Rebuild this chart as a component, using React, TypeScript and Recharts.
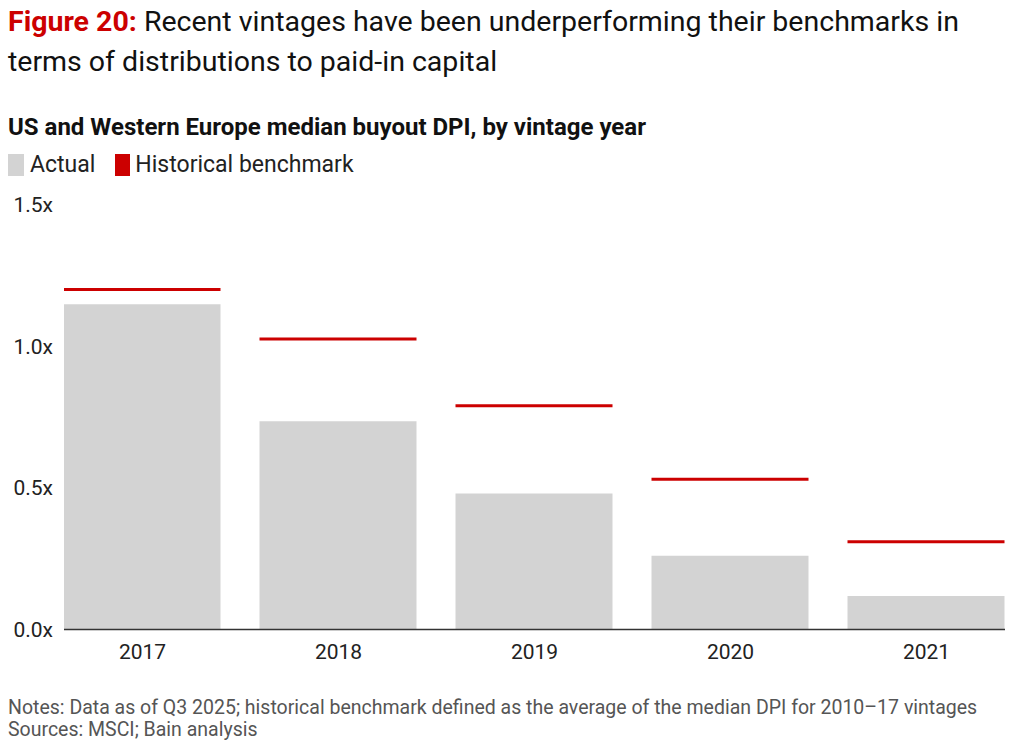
import React from "react";
import { BarChart, Bar, XAxis, YAxis } from "recharts";

const years = [2017, 2018, 2019, 2020, 2021];
const actual = [1.148, 0.735, 0.48, 0.26, 0.118];
const benchmark = [1.2, 1.025, 0.79, 0.53, 0.31];
const yTicks = [0, 0.5, 1.0, 1.5];

const data = years.map((y, i) => ({ year: y, actual: actual[i], benchmark: benchmark[i] }));

const FONT = "Roboto, 'Noto Sans', sans-serif";
const RED = "#cc0000";

const BenchShape = (props: any) => {
  const { x, y, width } = props;
  return <line x1={x} x2={x + width} y1={y} y2={y} stroke={RED} strokeWidth={3} />;
};

export default function App() {
  return (
    <div style={{ position: "absolute", left: 0, top: 0, width: 1018, height: 746, background: "#fff", fontFamily: FONT, color: "#111" }}>
      <div style={{ position: "absolute", left: 8, top: 2, width: 1008, fontSize: 28.5, lineHeight: "40px", whiteSpace: "nowrap" }}>
        <div><span style={{ color: RED, fontWeight: 700 }}>Figure 20:</span> Recent vintages have been underperforming their benchmarks in</div>
        <div>terms of distributions to paid-in capital</div>
      </div>
      <div style={{ position: "absolute", left: 8, top: 112, fontSize: 24, fontWeight: 700, lineHeight: "30px", whiteSpace: "nowrap" }}>
        US and Western Europe median buyout DPI, by vintage year
      </div>
      <div style={{ position: "absolute", left: 8, top: 150, fontSize: 23, lineHeight: "30px", display: "flex", alignItems: "center", whiteSpace: "nowrap", color: "#222" }}>
        <span style={{ display: "inline-block", width: 16, height: 22, background: "#d3d3d3", marginRight: 6 }} />
        <span style={{ marginRight: 20 }}>Actual</span>
        <span style={{ display: "inline-block", width: 15, height: 22, background: RED, marginRight: 5 }} />
        <span>Historical benchmark</span>
      </div>
      <div style={{ position: "absolute", left: 0, top: 0 }}>
        <BarChart
          width={1018}
          height={680}
          data={data}
          margin={{ top: 204.5, right: 13, bottom: 10.5, left: 0 }}
          barGap={-157}
        >
          <XAxis
            dataKey="year"
            type="number"
            domain={[2017 - 78.5 / 196, 2021 + 78.5 / 196]}
            ticks={years}
            tickLine={false}
            tickSize={0}
            tickMargin={15}
            height={40}
            axisLine={{ stroke: "#333", strokeWidth: 1.5 }}
            tick={{ fill: "#222", fontSize: 21, fontFamily: FONT }}
            allowDataOverflow
          />
          <YAxis
            domain={[0, 1.5]}
            ticks={yTicks}
            width={64}
            axisLine={false}
            tickLine={false}
            tickSize={0}
            tickMargin={11}
            tickFormatter={(v: number) => v.toFixed(1) + "x"}
            tick={{ fill: "#222", fontSize: 21, fontFamily: FONT }}
          />
          <Bar dataKey="actual" fill="#d3d3d3" barSize={157} isAnimationActive={false} />
          <Bar dataKey="benchmark" barSize={157} shape={BenchShape} isAnimationActive={false} />
        </BarChart>
      </div>
      <div style={{ position: "absolute", left: 8, top: 697, fontSize: 19.5, lineHeight: "22px", color: "#555", whiteSpace: "nowrap" }}>
        <div>Notes: Data as of Q3 2025; historical benchmark defined as the average of the median DPI for 2010–17 vintages</div>
        <div>Sources: MSCI; Bain analysis</div>
      </div>
    </div>
  );
}
